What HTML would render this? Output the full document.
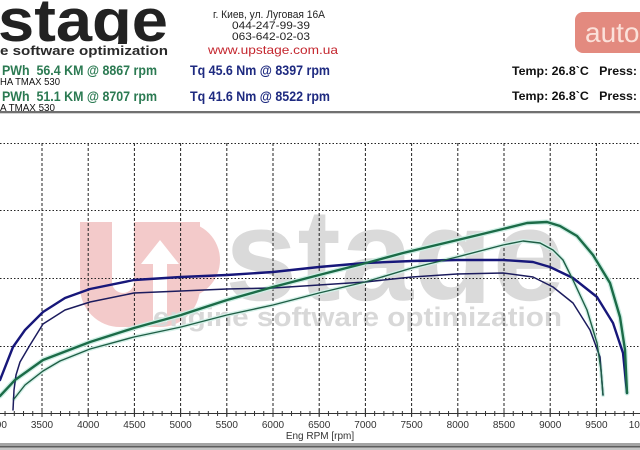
<!DOCTYPE html>
<html><head><meta charset="utf-8"><style>
html,body{margin:0;padding:0;background:#fff;}
svg{display:block;}
text{font-family:"Liberation Sans",Arial,sans-serif;white-space:pre;}
</style></head><body>
<svg width="640" height="450" viewBox="0 0 640 450" xmlns="http://www.w3.org/2000/svg">
<defs>
<pattern id="minor" x="41.5" y="0" width="9.24" height="450" patternUnits="userSpaceOnUse"><rect x="0" y="0" width="1" height="450" fill="#333"/></pattern>
<pattern id="major" x="41.5" y="0" width="46.2" height="450" patternUnits="userSpaceOnUse"><rect x="0" y="0" width="1" height="450" fill="#333"/></pattern>
<clipPath id="clipLogo"><rect x="0" y="0" width="640" height="44"/></clipPath>
<clipPath id="clipWm"><rect x="0" y="200" width="640" height="103"/></clipPath>
</defs>

<!-- Header -->
<g clip-path="url(#clipLogo)">
<text x="-2" y="41" font-size="60" font-weight="bold" fill="#222" textLength="170" lengthAdjust="spacingAndGlyphs">stage</text>
</g>
<text x="0" y="55" font-size="13" font-weight="bold" fill="#2a2a2a" textLength="168" lengthAdjust="spacingAndGlyphs">e software optimization</text>

<text x="2" y="75" font-size="14" font-weight="bold" fill="#2b7a52" textLength="155" lengthAdjust="spacingAndGlyphs">PWh  56.4 KM @ 8867 rpm</text>
<text x="0" y="85" font-size="10" fill="#111" textLength="60" lengthAdjust="spacingAndGlyphs">HA TMAX 530</text>
<text x="2" y="101" font-size="14" font-weight="bold" fill="#2b7a52" textLength="155" lengthAdjust="spacingAndGlyphs">PWh  51.1 KM @ 8707 rpm</text>
<text x="0" y="111" font-size="10" fill="#111" textLength="55" lengthAdjust="spacingAndGlyphs">A TMAX 530</text>

<text x="190" y="75" font-size="14" font-weight="bold" fill="#1e2a80" textLength="140" lengthAdjust="spacingAndGlyphs">Tq 45.6 Nm @ 8397 rpm</text>
<text x="190" y="101" font-size="14" font-weight="bold" fill="#1e2a80" textLength="140" lengthAdjust="spacingAndGlyphs">Tq 41.6 Nm @ 8522 rpm</text>

<text x="213" y="18" font-size="11" fill="#222" textLength="112" lengthAdjust="spacingAndGlyphs">г. Киев, ул. Луговая 16А</text>
<text x="232" y="29" font-size="11" fill="#222" textLength="78" lengthAdjust="spacingAndGlyphs">044-247-99-39</text>
<text x="232" y="40" font-size="11" fill="#222" textLength="78" lengthAdjust="spacingAndGlyphs">063-642-02-03</text>
<text x="208" y="54" font-size="12" fill="#c4262e" textLength="130" lengthAdjust="spacingAndGlyphs">www.upstage.com.ua</text>

<rect x="575" y="12" width="80" height="41" rx="8" fill="#e38a7f"/>
<text x="585" y="42" font-size="28" fill="#fbe1da">auto</text>

<text x="512" y="75" font-size="12" font-weight="bold" fill="#111" textLength="125" lengthAdjust="spacingAndGlyphs">Temp: 26.8`C   Press:</text>
<text x="512" y="100" font-size="12" font-weight="bold" fill="#111" textLength="125" lengthAdjust="spacingAndGlyphs">Temp: 26.8`C   Press:</text>

<!-- separator -->
<rect x="0" y="111" width="640" height="2" fill="#707070"/>
<rect x="0" y="113" width="640" height="1" fill="#d4d4d4"/>

<!-- Watermark -->
<g fill="#f3caca">
<path d="M80,222 H200 V287 A40,40 0 0 1 160,327 H120 A40,40 0 0 1 80,287 Z"/>
<path d="M160,222 H182 A38,38 0 0 1 182,298 H160 Z"/>
</g>
<path d="M112,222 H134 V282 A11,11 0 0 1 112,282 Z" fill="#fff"/>
<polygon points="160,240 179,264 167,264 167,322 153,322 153,264 141,264" fill="#fff"/>
<g clip-path="url(#clipWm)">
<text x="225" y="300" font-size="131" font-weight="bold" fill="#dadada" textLength="340" lengthAdjust="spacingAndGlyphs">stage</text>
</g>
<text x="153" y="326" font-size="27" font-weight="bold" fill="#d8d8d8" textLength="409" lengthAdjust="spacingAndGlyphs">engine software optimization</text>

<!-- Grid -->
<g stroke="#222" stroke-width="1" stroke-dasharray="1.5,2" fill="none">
<line x1="0" y1="143.5" x2="640" y2="143.5"/>
<line x1="0" y1="210.5" x2="640" y2="210.5"/>
<line x1="0" y1="278.5" x2="640" y2="278.5"/>
<line x1="0" y1="346.5" x2="640" y2="346.5"/>
</g>
<g stroke="#222" stroke-width="1" stroke-dasharray="3,2" fill="none">
<line x1="42" y1="143" x2="42" y2="413"/>
<line x1="88.2" y1="143" x2="88.2" y2="413"/>
<line x1="134.4" y1="143" x2="134.4" y2="413"/>
<line x1="180.6" y1="143" x2="180.6" y2="413"/>
<line x1="226.8" y1="143" x2="226.8" y2="413"/>
<line x1="273" y1="143" x2="273" y2="413"/>
<line x1="319.2" y1="143" x2="319.2" y2="413"/>
<line x1="365.4" y1="143" x2="365.4" y2="413"/>
<line x1="411.6" y1="143" x2="411.6" y2="413"/>
<line x1="457.8" y1="143" x2="457.8" y2="413"/>
<line x1="504" y1="143" x2="504" y2="413"/>
<line x1="550.2" y1="143" x2="550.2" y2="413"/>
<line x1="596.4" y1="143" x2="596.4" y2="413"/>
</g>

<!-- Axis -->
<rect x="0" y="413" width="640" height="1" fill="#333"/>
<rect x="0" y="411" width="640" height="5" fill="url(#minor)"/>
<rect x="0" y="409" width="640" height="8" fill="url(#major)"/>
<g font-size="10" fill="#333" text-anchor="middle">
<text x="-4.2" y="428">3000</text>
<text x="42" y="428">3500</text>
<text x="88.2" y="428">4000</text>
<text x="134.4" y="428">4500</text>
<text x="180.6" y="428">5000</text>
<text x="226.8" y="428">5500</text>
<text x="273" y="428">6000</text>
<text x="319.2" y="428">6500</text>
<text x="365.4" y="428">7000</text>
<text x="411.6" y="428">7500</text>
<text x="457.8" y="428">8000</text>
<text x="504" y="428">8500</text>
<text x="550.2" y="428">9000</text>
<text x="596.4" y="428">9500</text>
<text x="642.6" y="428">10000</text>
<text x="320" y="439">Eng RPM [rpm]</text>
</g>

<!-- bottom window bars -->
<rect x="0" y="443" width="640" height="3" fill="#a4a4a4"/>
<rect x="0" y="446" width="640" height="1.5" fill="#5e5e5e"/>
<rect x="0" y="447.5" width="640" height="2.5" fill="#c4c4c4"/>

<!-- Curves -->
<g fill="none" stroke-linejoin="round" stroke-linecap="round">
<polyline stroke="#cdeee4" stroke-width="5" points="0,396 15,380 43,360 90,342 134,328 181,315 227,300 273,287 319,275 370,262 403,253 470,237 503,229 527,223 547,222 560,226 577,236 593,255 610,283 620,317 625,350 627,393"/>
<polyline stroke="#d4f0e8" stroke-width="4" points="14,399 25,385 43,371 60,361 90,349 134,337 181,327 227,315 273,305 319,293 365,282 412,268 457,257 503,245 523,241 540,243 553,250 563,260 573,280 587,310 597,343 601,370 603,395"/>

<polyline stroke="#17177a" stroke-width="2.4" points="0,380 13,347 25,330 43,312 65,298 90,289 134,280 181,277 227,275 273,272 319,267 365,263 412,261 457,260 503,260 533,262 550,267 573,278 597,297 613,323 623,353 627,393"/>
<polyline stroke="#1c1c5e" stroke-width="1.5" points="13,410 14,390 16,375 20,362 30,345 43,324 65,310 90,302 134,293 181,291 227,289 273,288 319,285 365,282 412,277 457,274 503,273 533,277 553,287 573,303 590,330 600,357 603,395"/>
<polyline stroke="#1b6b47" stroke-width="2.4" points="0,396 15,380 43,360 90,342 134,328 181,315 227,300 273,287 319,275 370,262 403,253 470,237 503,229 527,223 547,222 560,226 577,236 593,255 610,283 620,317 625,350 627,393"/>
<polyline stroke="#1f5e45" stroke-width="1.4" points="14,399 25,385 43,371 60,361 90,349 134,337 181,327 227,315 273,305 319,293 365,282 412,268 457,257 503,245 523,241 540,243 553,250 563,260 573,280 587,310 597,343 601,370 603,395"/>
</g>
</svg>
</body></html>
